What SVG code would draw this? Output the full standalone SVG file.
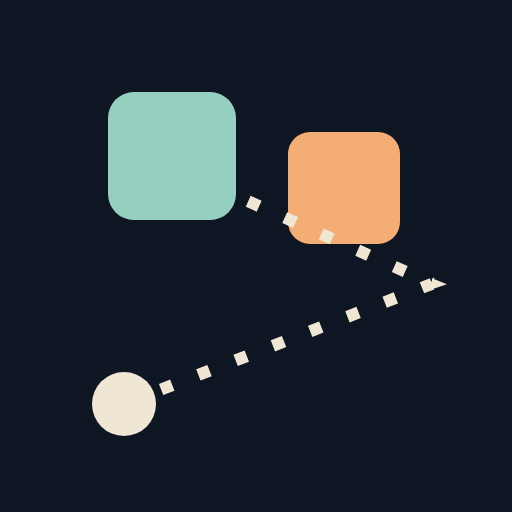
<svg xmlns="http://www.w3.org/2000/svg" width="512" height="512" viewBox="0 0 512 512">
  <defs>
    <style>
      .link { fill: none; stroke: #efe6d4; stroke-width: 12; stroke-dasharray: 12 28; stroke-linecap: butt; }
    </style>
    <marker id="arrow" markerUnits="userSpaceOnUse" markerWidth="20" markerHeight="20" refX="0" refY="6" orient="0" viewBox="0 0 20 12">
      <polygon points="0,0.5 15,6.5 0,11.5" fill="#efe6d4"/>
    </marker>
  </defs>
  <rect x="0" y="0" width="512" height="512" fill="#0d1622"/>
  <g id="node-teal">
    <rect x="108" y="92" width="128" height="128" rx="26" ry="26" fill="#94cfbf"/>
  </g>
  <g id="node-orange">
    <rect x="288" y="132" width="112" height="112" rx="22" ry="22" fill="#f4ad74"/>
  </g>
  <g id="node-circle">
    <circle cx="124" cy="404" r="32" fill="#efe6d4"/>
  </g>
  <g id="connectors">
    <path class="link" d="M248.2,201.3 L432,283.5"/>
    <path class="link" d="M161.1,389.5 L432,283.8" marker-end="url(#arrow)"/>
  </g>
</svg>
